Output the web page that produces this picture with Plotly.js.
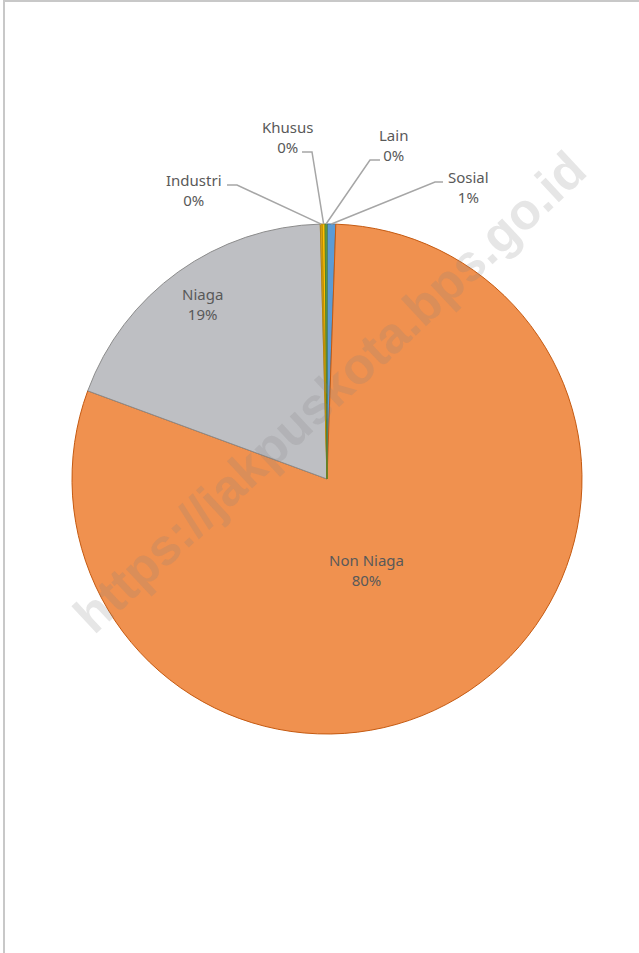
<!DOCTYPE html>
<html>
<head>
<meta charset="utf-8">
<script src="https://cdn.plot.ly/plotly-3.0.1.min.js"></script>
<style>
  html, body { margin: 0; padding: 0; background: #fff; }
  #frame { position: absolute; left: 3px; top: 0; width: 636px; height: 953px;
           border-top: 2px solid #C8C8C8; border-left: 2px solid #C8C8C8; box-sizing: border-box; }
  #chart { position: absolute; left: 0; top: 0; width: 639px; height: 953px; }
</style>
</head>
<body>
<div id="chart"></div>
<div id="frame"></div>
<script>
// ---- data ----
const categories = ['Sosial', 'Non Niaga', 'Niaga', 'Industri', 'Khusus', 'Lain'];
const shares = [0.55, 80.1, 18.97, 0.12, 0.18, 0.12];
const sliceColors = ['#5B9BD5', '#F0914F', '#BEBFC3', '#DDA320', '#FFC000', '#70AD47'];
const edgeColors = ['#41719C', '#C55A11', '#8C8C8C', '#B8860B', '#BF9000', '#507E32'];
// label positions (pixels)
const insideLabels = [
  {name: 'Non Niaga', x: 366, y: 570},
  {name: 'Niaga',     x: 202, y: 304}
];
const outsideLabels = [
  {name: 'Khusus',   x: 287, y: 137, elbowFrom: [302, 152], elbowTo: [312, 152]},
  {name: 'Lain',     x: 393, y: 145, elbowFrom: [380, 160], elbowTo: [370, 160]},
  {name: 'Industri', x: 194, y: 190, elbowFrom: [227, 185], elbowTo: [237, 185]},
  {name: 'Sosial',   x: 468, y: 187, elbowFrom: [443, 182], elbowTo: [435, 182]}
];

const W = 639, H = 953;
const cx = 327, cy = 479, R = 255;
const px = x => x / W;
const py = y => 1 - y / H;
const labelFont = { family: 'Noto Sans, Open Sans, sans-serif', size: 15, color: '#595959' };

const total = shares.reduce((a, b) => a + b, 0);
const pctText = v => Math.round(v / total * 100) + '%';

// mid-angle of each slice (clockwise from 12 o'clock, first slice starts at 0)
const midAngle = {};
let acc = 0;
shares.forEach((v, i) => {
  const a0 = acc / total * 360, a1 = (acc + v) / total * 360;
  midAngle[categories[i]] = (a0 + a1) / 2;
  acc += v;
});

const trace = {
  type: 'pie',
  labels: categories,
  values: shares,
  sort: false,
  direction: 'clockwise',
  rotation: 0,
  marker: { colors: sliceColors, line: { color: edgeColors, width: 1 } },
  textinfo: 'none',
  hoverinfo: 'label+percent',
  showlegend: false,
  domain: { x: [px(cx - R), px(cx + R)], y: [py(cy + R), py(cy - R)] }
};

const annotations = insideLabels.concat(outsideLabels).map(l => {
  const v = shares[categories.indexOf(l.name)];
  return {
    xref: 'paper', yref: 'paper', x: px(l.x), y: py(l.y),
    text: l.name + '<br>' + pctText(v), showarrow: false,
    font: labelFont, align: 'center', xanchor: 'center', yanchor: 'middle'
  };
});
annotations.push({
  xref: 'paper', yref: 'paper', x: px(329), y: py(392),
  text: 'https://jakpuskota.bps.go.id', showarrow: false, textangle: -43,
  font: { family: 'Liberation Sans, Arial, sans-serif', size: 51, color: 'rgba(128,128,128,0.2)', weight: 'bold' },
  xanchor: 'center', yanchor: 'middle'
});

const shapes = outsideLabels.map(l => {
  const a = midAngle[l.name] * Math.PI / 180;
  const ex = cx + R * Math.sin(a), ey = cy - R * Math.cos(a);
  return {
    type: 'path', xref: 'paper', yref: 'paper',
    path: `M ${px(l.elbowFrom[0])} ${py(l.elbowFrom[1])} L ${px(l.elbowTo[0])} ${py(l.elbowTo[1])} L ${px(ex)} ${py(ey)}`,
    line: { color: '#A6A6A6', width: 1.5 }
  };
});

const layout = {
  width: W, height: H,
  margin: { l: 0, r: 0, t: 0, b: 0 },
  paper_bgcolor: '#ffffff',
  annotations: annotations,
  shapes: shapes
};

Plotly.newPlot('chart', [trace], layout, { displayModeBar: false, staticPlot: true });
</script>
</body>
</html>
